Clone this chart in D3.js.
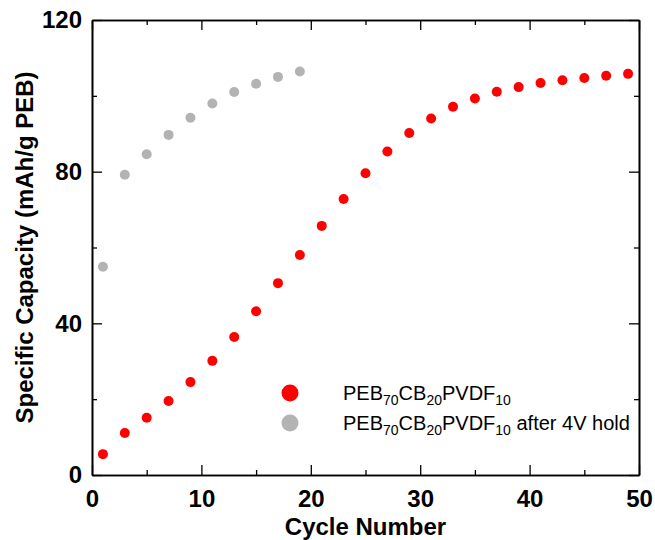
<!DOCTYPE html>
<html>
<head>
<meta charset="utf-8">
<script src="https://d3js.org/d3.v7.min.js"></script>
<style>
  body { margin: 0; background: #fff; }
  text { font-family: "Liberation Sans", Arial, sans-serif; }
</style>
</head>
<body>
<svg id="chart" width="655" height="540"></svg>
<script>
// cycle numbers and capacities
var cycles = [1, 3, 5, 7, 9, 11, 13, 15, 17, 19, 21, 23, 25, 27, 29, 31, 33, 35, 37, 39, 41, 43, 45, 47, 49];
var capacityFresh = [5.5, 11.1, 15.1, 19.5, 24.5, 30.1, 36.4, 43.2, 50.6, 58.0, 65.7, 72.8, 79.6, 85.3, 90.2,
                     94.0, 97.1, 99.3, 101.1, 102.3, 103.4, 104.1, 104.7, 105.3, 105.8];
var cyclesHold = [1, 3, 5, 7, 9, 11, 13, 15, 17, 19];
var capacityHold = [54.9, 79.2, 84.6, 89.7, 94.2, 98.0, 101.0, 103.2, 105.0, 106.4];

var xMajor = [0, 10, 20, 30, 40, 50];
var xMinor = [5, 15, 25, 35, 45];
var yMajor = [0, 40, 80, 120];
var yMinor = [20, 60, 100];

var series = [
    {name: 'fresh', x: cycles, y: capacityFresh, color: '#ff0000',
     label: [['PEB', 0], ['70', 1], ['CB', 0], ['20', 1], ['PVDF', 0], ['10', 1]]},
    {name: 'hold', x: cyclesHold, y: capacityHold, color: '#b3b3b3',
     label: [['PEB', 0], ['70', 1], ['CB', 0], ['20', 1], ['PVDF', 0], ['10', 1], [' after 4V hold', 0]]}
];

var margin = {top: 20, right: 16, bottom: 65, left: 92},
    width = 655 - margin.left - margin.right,
    height = 540 - margin.top - margin.bottom;

var svg = d3.select('#chart');
var g = svg.append('g').attr('transform', 'translate(' + margin.left + ',' + margin.top + ')');

var x = d3.scaleLinear().domain([0, 50]).range([0, width]);
var y = d3.scaleLinear().domain([0, 120]).range([height, 0]);

function styleAxis(sel) {
    sel.selectAll('path').attr('stroke', '#000').attr('stroke-width', 1.6);
    sel.selectAll('line').attr('stroke', '#000').attr('stroke-width', 1.3);
    sel.selectAll('text').attr('font-size', 24).attr('font-weight', 'bold').attr('fill', '#000');
}

// bottom and left with labels
g.append('g').attr('transform', 'translate(0,' + height + ')')
    .call(d3.axisBottom(x).tickValues(xMajor).tickSizeInner(-10).tickSizeOuter(0).tickPadding(15).tickFormat(d3.format('d')))
    .call(styleAxis);
g.append('g').attr('transform', 'translate(0,' + height + ')')
    .call(d3.axisBottom(x).tickValues(xMinor).tickSizeInner(-5).tickSizeOuter(0).tickFormat(''))
    .call(styleAxis);
g.append('g')
    .call(d3.axisLeft(y).tickValues(yMajor).tickSizeInner(-10).tickSizeOuter(0).tickPadding(10).tickFormat(d3.format('d')))
    .call(styleAxis);
g.append('g')
    .call(d3.axisLeft(y).tickValues(yMinor).tickSizeInner(-5).tickSizeOuter(0).tickFormat(''))
    .call(styleAxis);

// top and right mirrors, no labels
g.append('g')
    .call(d3.axisTop(x).tickValues(xMajor).tickSizeInner(-10).tickSizeOuter(0).tickFormat(''))
    .call(styleAxis);
g.append('g')
    .call(d3.axisTop(x).tickValues(xMinor).tickSizeInner(-5).tickSizeOuter(0).tickFormat(''))
    .call(styleAxis);
g.append('g').attr('transform', 'translate(' + width + ',0)')
    .call(d3.axisRight(y).tickValues(yMajor).tickSizeInner(-10).tickSizeOuter(0).tickFormat(''))
    .call(styleAxis);
g.append('g').attr('transform', 'translate(' + width + ',0)')
    .call(d3.axisRight(y).tickValues(yMinor).tickSizeInner(-5).tickSizeOuter(0).tickFormat(''))
    .call(styleAxis);

// markers
series.forEach(function(s) {
    g.append('g').selectAll('circle')
        .data(s.x.map(function(v, i) { return [v, s.y[i]]; }))
        .enter().append('circle')
        .attr('cx', function(d) { return x(d[0]); })
        .attr('cy', function(d) { return y(d[1]); })
        .attr('r', 5)
        .attr('fill', s.color);
});

// axis titles
svg.append('text')
    .attr('x', margin.left + width / 2).attr('y', 535)
    .attr('text-anchor', 'middle').attr('font-size', 24).attr('font-weight', 'bold')
    .text('Cycle Number');
svg.append('text')
    .attr('transform', 'translate(33,' + (margin.top + height / 2) + ') rotate(-90)')
    .attr('text-anchor', 'middle').attr('font-size', 24).attr('font-weight', 'bold')
    .text('Specific Capacity (mAh/g PEB)');

// legend
var legend = svg.append('g').attr('transform', 'translate(290,393)');
series.forEach(function(s, i) {
    legend.append('circle').attr('cx', 0).attr('cy', i * 30).attr('r', 8.5).attr('fill', s.color);
    var t = legend.append('text').attr('x', 53).attr('y', i * 30 + 7).attr('font-size', 20);
    var shifted = 0;
    s.label.forEach(function(p) {
        var dy = p[1] ? 5 - shifted : -shifted;
        shifted += dy;
        t.append('tspan')
            .attr('dy', dy)
            .attr('font-size', p[1] ? 14 : 20)
            .text(p[0]);
    });
});
</script>
</body>
</html>
